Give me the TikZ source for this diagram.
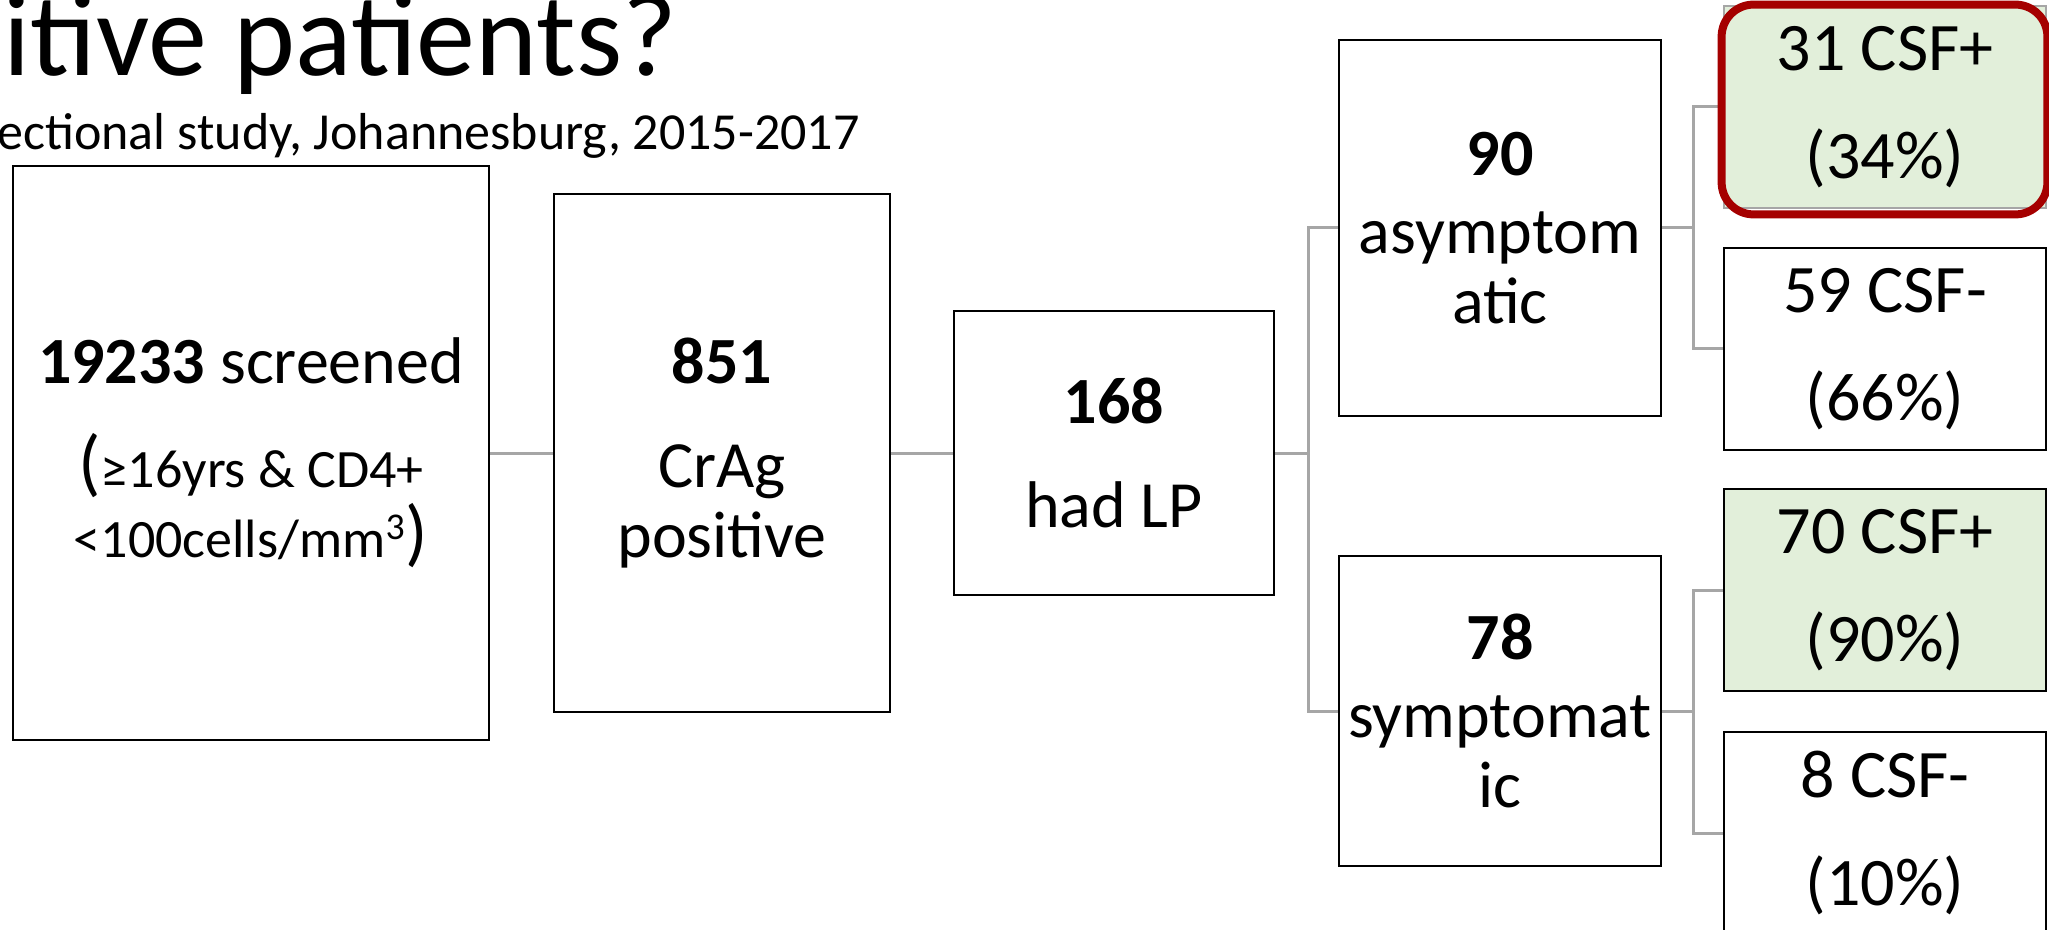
\documentclass[tikz,border=0pt]{standalone}
\usepackage{fontspec}
\setmainfont{Carlito}
\usepackage{xcolor}
\definecolor{vlinegray}{HTML}{A6A6A6}
\definecolor{vgreen}{HTML}{E2EFDA}
\definecolor{vred}{HTML}{A50000}
\newcommand{\subf}[1]{{\fontsize{27}{35}\selectfont #1}}
\newcommand{\bigp}[1]{{\fontsize{37}{35}\selectfont #1}}
\tikzset{
	box/.style={draw=black, line width=1.4pt, fill=white, align=center, inner sep=0pt, font=\fontsize{33}{35}\selectfont},
	csfbox/.style={box, minimum width=161pt, minimum height=101pt, font=\fontsize{34}{54}\selectfont},
	link/.style={draw=vlinegray, line width=1.5pt},
	hilite/.style={draw=vred, line width=4pt, rounded corners=16pt},
}

\begin{document}
\begin{tikzpicture}[x=0.5pt, y=-0.5pt]
		\useasboundingbox (0,0) rectangle (2049,930);
		\node[anchor=base west, inner sep=0pt, font=\fontsize{59}{60}\selectfont] (title) at (3,76) {itive patients?};
		\node[anchor=base west, inner sep=0pt, font=\fontsize{26}{30}\selectfont] (subtitle) at (-3,150) {ectional study, Johannesburg, 2015-2017};
		\node[box, minimum width=238pt, minimum height=287pt] (screen) at (251,453) {\textbf{19233} screened\\[17pt]\subf{\bigp{(}≥16yrs \& CD4+}\\\subf{<100cells/mm\textsuperscript{3}\bigp{)}}};
		\node[box, minimum width=168pt, minimum height=259pt] (crag) at (722,453) {\textbf{851}\\[17pt]CrAg\\positive};
		\node[box, minimum width=160pt, minimum height=142pt] (lp) at (1114,453) {\textbf{168}\\[17pt]had LP};
		\node[box, minimum width=161pt, minimum height=188pt] (asym) at (1500,228) {\textbf{90}\\[4pt]asymptom\\atic};
		\node[box, minimum width=161pt, minimum height=155pt] (sym) at (1500,711) {\textbf{78}\\[4pt]symptomat\\ic};
		\node[csfbox, draw=vlinegray, fill=vgreen] (pos1) at (1885,107) {31 CSF+\\(34\%)};
		\node[csfbox] (neg1) at (1885,349) {59 CSF-\\(66\%)};
		\node[csfbox, fill=vgreen] (pos2) at (1885,590) {70 CSF+\\(90\%)};
		\node[csfbox] (neg2) at (1885,833) {8 CSF-\\(10\%)};
		\draw[link] (screen.east) -- (crag.west);
		\draw[link] (crag.east) -- (lp.west);
		\draw[link] (lp.east) -- ++(33,0) |- (asym.west);
		\draw[link] (lp.east) -- ++(33,0) |- (sym.west);
		\draw[link] (asym.east) -- ++(31,0) |- (pos1.west);
		\draw[link] (asym.east) -- ++(31,0) |- (neg1.west);
		\draw[link] (sym.east) -- ++(31,0) |- (pos2.west);
		\draw[link] (sym.east) -- ++(31,0) |- (neg2.west);
		\draw[hilite] ([xshift=-0.5pt]pos1.north west) rectangle ([yshift=-2.5pt]pos1.south east);
	\end{tikzpicture}
\end{document}
